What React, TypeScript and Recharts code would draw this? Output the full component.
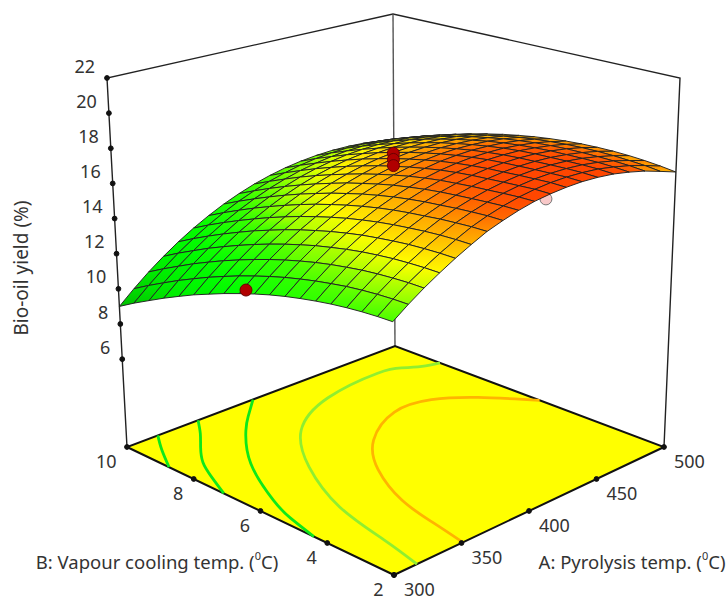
import React from "react";
import { ScatterChart, Scatter, XAxis, YAxis } from "recharts";

const FONT = "'Noto Sans', sans-serif";

const pyrolysisGrid = [300, 311.1, 322.2, 333.3, 344.4, 355.6, 366.7, 377.8, 388.9, 400, 411.1, 422.2, 433.3, 444.4, 455.6, 466.7, 477.8, 488.9, 500];
const coolingGrid = [2, 2.44, 2.89, 3.33, 3.78, 4.22, 4.67, 5.11, 5.56, 6, 6.44, 6.89, 7.33, 7.78, 8.22, 8.67, 9.11, 9.56, 10];

// one row per vapour cooling temp, one column per pyrolysis temp
const yieldRows = [
  [14.10, 14.70, 15.25, 15.75, 16.22, 16.65, 17.05, 17.34, 17.59, 17.78, 17.89, 17.95, 17.96, 17.90, 17.78, 17.58, 17.33, 17.00, 16.65],
  [14.07, 14.68, 15.24, 15.74, 16.21, 16.64, 17.03, 17.33, 17.57, 17.76, 17.89, 17.96, 17.97, 17.92, 17.82, 17.63, 17.40, 17.10, 16.76],
  [14.01, 14.63, 15.19, 15.70, 16.17, 16.60, 16.97, 17.27, 17.51, 17.70, 17.83, 17.91, 17.93, 17.90, 17.81, 17.65, 17.43, 17.15, 16.84],
  [13.92, 14.55, 15.12, 15.64, 16.11, 16.53, 16.90, 17.20, 17.44, 17.63, 17.77, 17.86, 17.89, 17.86, 17.78, 17.64, 17.44, 17.19, 16.89],
  [13.80, 14.44, 15.02, 15.54, 16.01, 16.43, 16.79, 17.10, 17.36, 17.56, 17.70, 17.79, 17.83, 17.81, 17.74, 17.61, 17.43, 17.20, 16.91],
  [13.65, 14.29, 14.88, 15.42, 15.89, 16.32, 16.69, 17.01, 17.27, 17.47, 17.63, 17.73, 17.77, 17.76, 17.70, 17.58, 17.41, 17.18, 16.90],
  [13.47, 14.12, 14.72, 15.26, 15.75, 16.18, 16.56, 16.88, 17.15, 17.37, 17.53, 17.63, 17.69, 17.68, 17.63, 17.51, 17.35, 17.13, 16.86],
  [13.27, 13.92, 14.53, 15.07, 15.57, 16.01, 16.40, 16.73, 17.00, 17.23, 17.40, 17.51, 17.57, 17.57, 17.53, 17.42, 17.27, 17.05, 16.79],
  [13.03, 13.69, 14.30, 14.86, 15.36, 15.81, 16.20, 16.54, 16.83, 17.06, 17.23, 17.36, 17.42, 17.44, 17.39, 17.30, 17.15, 16.95, 16.69],
  [12.76, 13.43, 14.05, 14.61, 15.12, 15.58, 15.98, 16.33, 16.62, 16.86, 17.04, 17.17, 17.25, 17.27, 17.23, 17.15, 17.01, 16.81, 16.56],
  [12.46, 13.14, 13.77, 14.34, 14.86, 15.32, 15.73, 16.08, 16.38, 16.63, 16.82, 16.96, 17.04, 17.07, 17.04, 16.96, 16.83, 16.64, 16.40],
  [12.13, 12.82, 13.45, 14.03, 14.56, 15.03, 15.45, 15.81, 16.12, 16.37, 16.57, 16.72, 16.81, 16.84, 16.82, 16.75, 16.63, 16.44, 16.21],
  [11.77, 12.47, 13.11, 13.70, 14.23, 14.71, 15.14, 15.50, 15.82, 16.08, 16.29, 16.44, 16.54, 16.58, 16.57, 16.51, 16.39, 16.22, 15.99],
  [11.39, 12.09, 12.74, 13.33, 13.88, 14.36, 14.79, 15.17, 15.49, 15.76, 15.98, 16.14, 16.25, 16.30, 16.29, 16.24, 16.13, 15.96, 15.74],
  [10.97, 11.68, 12.34, 12.94, 13.49, 13.98, 14.42, 14.81, 15.14, 15.42, 15.64, 15.81, 15.92, 15.98, 15.98, 15.94, 15.83, 15.67, 15.46],
  [10.52, 11.24, 11.91, 12.52, 13.07, 13.57, 14.02, 14.41, 14.75, 15.04, 15.27, 15.44, 15.57, 15.63, 15.65, 15.60, 15.51, 15.36, 15.15],
  [10.04, 10.77, 11.44, 12.06, 12.63, 13.14, 13.59, 13.99, 14.34, 14.63, 14.87, 15.05, 15.18, 15.26, 15.28, 15.24, 15.16, 15.01, 14.82],
  [9.54, 10.27, 10.95, 11.58, 12.15, 12.67, 13.13, 13.54, 13.89, 14.19, 14.44, 14.63, 14.77, 14.85, 14.88, 14.85, 14.77, 14.64, 14.45],
  [9.00, 9.74, 10.43, 11.06, 11.64, 12.17, 12.64, 13.06, 13.42, 13.73, 13.98, 14.18, 14.32, 14.41, 14.45, 14.43, 14.36, 14.23, 14.05],
];

const yieldTicks = [22, 20, 18, 16, 14, 12, 10, 8, 6];
const pyrolysisTicks = [300, 350, 400, 450, 500];
const coolingTicks = [2, 4, 6, 8, 10];

// design points [A, B, yield]
const pointsBelow = [[408, 2, 17.7]];
const pointsAbove = [
  [400, 6, 18.1],
  [400, 6, 17.75],
  [400, 6, 17.4],
  [300, 6.24, 12.8],
];

// floor contours, [A, B] along each line
const contourLines = [
  { color: "#0ee81a", pts: [[323, 10], [312, 9.44], [300, 8.74]] },
  { color: "#0ee81a", pts: [[353, 10], [342, 9.49], [330, 9.0], [318, 8.45], [309, 7.83], [300, 7.1]] },
  { color: "#0ee81a", pts: [[394, 10], [377, 9.46], [363, 8.97], [336, 7.74], [314, 6.18], [306, 5.35], [300, 4.4]] },
  { color: "#90ee30", pts: [[500, 8.66], [490, 8.8], [481, 9.05], [467, 9.2], [425, 9.0], [385, 8.2], [356, 6.8], [334, 5.0], [324, 3.27], [317, 2]] },
  { color: "#ffb400", pts: [[500, 5.7], [481, 6.77], [462, 7.4], [437, 7.5], [404, 6.8], [380, 5.7], [363, 4.3], [356, 3.08], [351, 2]] },
];

const colourStops: [number, number, number, number][] = [
  [9, 0, 190, 0],
  [10.5, 0, 235, 0],
  [12.5, 0, 255, 0],
  [14, 60, 255, 0],
  [15, 170, 255, 0],
  [15.7, 255, 255, 0],
  [16.4, 255, 200, 0],
  [17, 255, 150, 0],
  [17.4, 255, 100, 0],
  [17.8, 255, 70, 0],
];

const Z_FLOOR = 1;
const Z_TOP = 22;

// the reference's box is not a true perspective, corners are blended instead
function project(a: number, b: number, z: number) {
  const u = (a - 300) / 200;
  const v = (b - 2) / 8;
  const t = (z - Z_FLOOR) / (Z_TOP - Z_FLOOR);
  return {
    x: 394 + 270 * u - 267 * v - 2 * u * v + t * (-2 + 18 * u - 18 * v),
    y: 575 - 128 * u - 128 * v + 27 * u * v - t * (406 - 37 * u - 37 * v),
  };
}

function colourFor(z: number) {
  for (let i = 1; i < colourStops.length; i++) {
    const [z1, r1, g1, b1] = colourStops[i];
    if (z <= z1) {
      const [z0, r0, g0, b0] = colourStops[i - 1];
      const k = (z - z0) / (z1 - z0);
      return `rgb(${Math.round(r0 + (r1 - r0) * k)},${Math.round(g0 + (g1 - g0) * k)},${Math.round(b0 + (b1 - b0) * k)})`;
    }
  }
  return "rgb(255,70,0)";
}

const noDot = () => <g />;

const dotShape = (r: number, fill: string, stroke: string) => (p: any) => (
  <circle cx={p.cx} cy={p.cy} r={r} fill={fill} stroke={stroke} strokeWidth={1} />
);

const labelShape = (dx: number, dy: number, anchor: string) => (p: any) => (
  <text
    x={p.cx + dx}
    y={p.cy + dy}
    textAnchor={anchor as any}
    dominantBaseline="central"
    fontFamily={FONT}
    fontSize={18}
    fill="#333"
  >
    {p.payload.label}
  </text>
);

function titleShape(text: string, size: number, rotate?: boolean, degree?: boolean) {
  return (p: any) => (
    <text
      x={p.cx}
      y={p.cy}
      textAnchor="middle"
      dominantBaseline="central"
      fontFamily={FONT}
      fontSize={size}
      fill="#333"
      transform={rotate ? `rotate(-90 ${p.cx} ${p.cy})` : undefined}
    >
      {text}
      {degree && (
        <>
          {" ("}
          <tspan dy={-6} fontSize={11}>0</tspan>
          <tspan dy={6}>C)</tspan>
        </>
      )}
    </text>
  );
}

function frameLine(points: { x: number; y: number }[], key: string, width = 1.4, color = "#222") {
  return (
    <Scatter
      key={key}
      data={points}
      fill={color}
      line={{ stroke: color, strokeWidth: width }}
      shape={noDot}
      isAnimationActive={false}
    />
  );
}

export default function App() {
  const quads: React.ReactElement[] = [];
  const gradients: React.ReactElement[] = [];
  // back corner first so nearer cells paint over farther ones
  for (let j = coolingGrid.length - 2; j >= 0; j--) {
    for (let i = pyrolysisGrid.length - 2; i >= 0; i--) {
      const zs = [yieldRows[j][i], yieldRows[j][i + 1], yieldRows[j + 1][i + 1], yieldRows[j + 1][i]];
      const corners = [
        project(pyrolysisGrid[i], coolingGrid[j], zs[0]),
        project(pyrolysisGrid[i + 1], coolingGrid[j], zs[1]),
        project(pyrolysisGrid[i + 1], coolingGrid[j + 1], zs[2]),
        project(pyrolysisGrid[i], coolingGrid[j + 1], zs[3]),
      ];
      // each cell shades from its highest corner on screen to its lowest
      let top = 0;
      let bottom = 0;
      corners.forEach((c, k) => {
        if (c.y < corners[top].y) top = k;
        if (c.y > corners[bottom].y) bottom = k;
      });
      const id = `cell-${j}-${i}`;
      gradients.push(
        <linearGradient key={id} id={id} x1="0" y1="0" x2="0" y2="1">
          <stop offset="0%" stopColor={colourFor(zs[top])} />
          <stop offset="100%" stopColor={colourFor(zs[bottom])} />
        </linearGradient>
      );
      quads.push(
        <Scatter
          key={id}
          data={[...corners, corners[0]]}
          fill={colourFor(zs[0])}
          line={{ stroke: "#222", strokeWidth: 0.95, fill: `url(#${id})` }}
          shape={noDot}
          isAnimationActive={false}
        />
      );
    }
  }

  const floor = [
    project(300, 2, Z_FLOOR),
    project(500, 2, Z_FLOOR),
    project(500, 10, Z_FLOOR),
    project(300, 10, Z_FLOOR),
    project(300, 2, Z_FLOOR),
  ];

  const yieldTickPts = yieldTicks.map((t) => ({ ...project(300, 10, t), label: String(t) }));
  const pyrolysisTickPts = pyrolysisTicks.map((t) => ({ ...project(t, 2, Z_FLOOR), label: String(t) }));
  const coolingTickPts = coolingTicks.map((t) => ({ ...project(300, t, Z_FLOOR), label: String(t) }));

  return (
    <div style={{ position: "absolute", left: 0, top: 0, width: 728, height: 598, background: "#fff" }}>
      <ScatterChart width={728} height={598} margin={{ top: 0, right: 0, bottom: 0, left: 0 }}>
        <defs>{gradients}</defs>
        <XAxis type="number" dataKey="x" domain={[0, 728]} hide />
        <YAxis type="number" dataKey="y" domain={[0, 598]} reversed hide />

        {/* box behind the surface */}
        {frameLine([project(300, 10, Z_FLOOR), project(300, 10, Z_TOP), project(500, 10, Z_TOP), project(500, 2, Z_TOP), project(500, 2, Z_FLOOR)], "frame")}
        {frameLine([project(500, 10, Z_FLOOR), project(500, 10, Z_TOP)], "backEdge", 1.4, "#555")}

        <Scatter
          data={floor}
          fill="#ffff00"
          line={{ stroke: "#111", strokeWidth: 2, fill: "#ffff00" }}
          shape={noDot}
          isAnimationActive={false}
        />
        {contourLines.map((c, i) => (
          <Scatter
            key={`c${i}`}
            data={c.pts.map(([a, b]) => project(a, b, Z_FLOOR))}
            fill={c.color}
            line={{ stroke: c.color, strokeWidth: 2.8 }}
            lineJointType="natural"
            shape={noDot}
            isAnimationActive={false}
          />
        ))}

        <Scatter data={yieldTickPts} shape={dotShape(2.4, "#111", "#111")} isAnimationActive={false} />
        <Scatter data={pyrolysisTickPts} shape={dotShape(2.4, "#111", "#111")} isAnimationActive={false} />
        <Scatter data={coolingTickPts} shape={dotShape(2.4, "#111", "#111")} isAnimationActive={false} />

        <Scatter data={yieldTickPts} shape={labelShape(-12, -12.5, "end")} isAnimationActive={false} />
        <Scatter data={pyrolysisTickPts} shape={labelShape(10, 14, "start")} isAnimationActive={false} />
        <Scatter data={coolingTickPts} shape={labelShape(-10.5, 14, "end")} isAnimationActive={false} />

        <Scatter data={pointsBelow.map(([a, b, z]) => project(a, b, z))} shape={dotShape(6, "#f8c8c8", "#777")} isAnimationActive={false} />
        {quads}
        <Scatter data={pointsAbove.map(([a, b, z]) => project(a, b, z))} shape={dotShape(6, "#b00000", "#6a0000")} isAnimationActive={false} />

        <Scatter data={[{ x: 157, y: 561 }]} shape={titleShape("B: Vapour cooling temp.", 18.5, false, true)} isAnimationActive={false} />
        <Scatter data={[{ x: 632, y: 561 }]} shape={titleShape("A: Pyrolysis temp.", 18.5, false, true)} isAnimationActive={false} />
        <Scatter data={[{ x: 21, y: 268 }]} shape={titleShape("Bio-oil yield (%)", 19, true)} isAnimationActive={false} />
      </ScatterChart>
    </div>
  );
}
